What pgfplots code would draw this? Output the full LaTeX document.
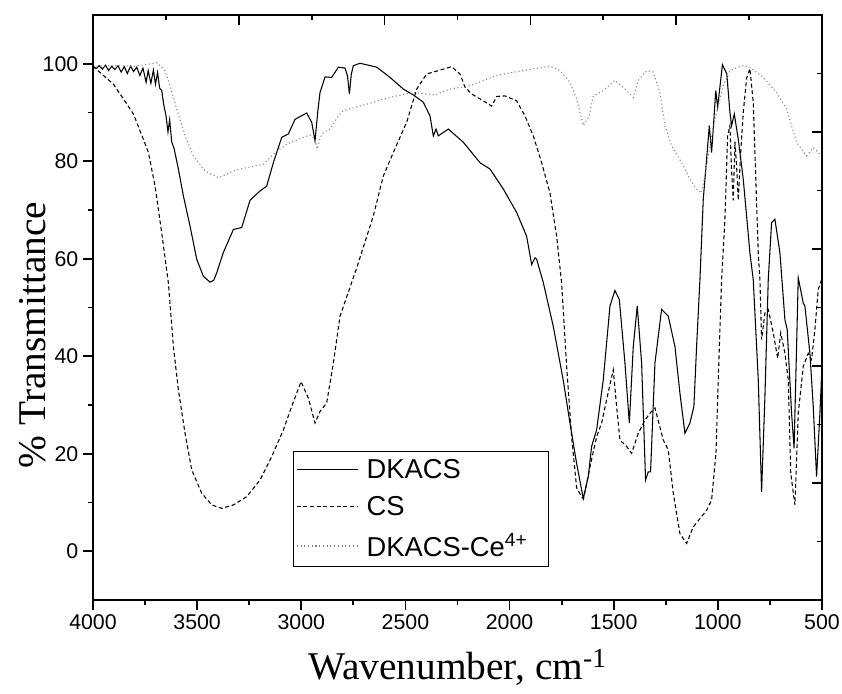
\documentclass[border=0pt]{standalone}
\usepackage{fontspec}
\setmainfont{Liberation Serif}
\setsansfont{Liberation Sans}
\usepackage{pgfplots}
\pgfplotsset{compat=1.18}
\begin{document}
\begin{tikzpicture}
\useasboundingbox (-69.75pt,-69.75pt) rectangle (561.75pt,450pt);
\begin{axis}[
  scale only axis, width=546.75pt, height=438.75pt,
  x dir=reverse, xmin=500, xmax=4000, ymin=-10, ymax=110,
  xtick={500,1000,...,4000}, minor xtick={750,1250,...,3750},
  ytick={0,20,...,100}, minor ytick={10,30,50,70,90},
  xtick pos=bottom, ytick pos=left, tick align=outside,
  major tick length=7.5pt, minor tick length=4pt,
  axis line style={line width=1.5pt},
  every tick/.style={line width=1.3pt, black},
  /pgf/number format/assume math mode=true,
  /pgf/number format/1000 sep={},
  tick label style={font=\sffamily\fontsize{16}{18}\selectfont},
  xlabel={Wavenumber, cm\textsuperscript{-1}},
  ylabel={\% Transmittance},
  xlabel style={at={(axis description cs:0.5,-0.116)}, anchor=center, font=\fontsize{29.5}{31}\selectfont},
  ylabel style={at={(axis description cs:-0.0823,0.453)}, anchor=center, rotate=0, font=\fontsize{29.5}{31}\selectfont},
  legend cell align=left,
  legend style={at={(axis description cs:0.2743,0.0564)}, anchor=south west,
    draw=black, line width=1pt, font=\sffamily\fontsize{20.5}{22}\selectfont,
    inner xsep=2pt, inner ysep=3.8pt, row sep=8pt, column sep=4pt},
  legend image code/.code={\draw[#1] (0pt,0pt) -- (46pt,0pt);},
]
\addplot[black, line width=0.8pt] coordinates {
(4000,99.5)(3985,99.0)(3970,99.6)(3955,98.9)(3940,99.7)(3925,98.6)(3910,99.5)(3895,98.8)(3880,99.6)(3865,98.3)
(3850,99.4)(3835,98.0)(3820,99.5)(3805,98.4)(3790,99.3)(3775,97.6)(3760,99.1)(3745,96.2)(3735,98.6)(3722,96.0)
(3710,98.7)(3700,95.8)(3690,98.2)(3680,95.0)(3670,94.5)(3660,91.5)(3650,89.5)(3640,86.0)(3632,88.5)(3622,84.0)
(3610,82.5)(3590,78.4)(3566,72.9)(3534,66.7)(3502,59.9)(3470,56.4)(3438,55.2)(3420,55.6)(3406,57.1)(3374,61.3)
(3326,66.0)(3286,66.4)(3246,72.0)(3198,73.9)(3166,74.9)(3134,79.7)(3094,84.9)(3062,85.6)(3030,88.6)(2974,89.9)
(2950,88.0)(2934,84.2)(2920,90.5)(2910,94.1)(2886,97.3)(2854,97.2)(2822,99.3)(2790,99.1)(2778,97.5)(2769,93.8)
(2760,97.8)(2750,99.6)(2718,100.1)(2638,99.3)(2574,97.2)(2510,94.8)(2462,93.6)(2414,92.1)(2382,89.3)(2366,85.2)
(2353,86.6)(2342,85.2)(2294,86.6)(2222,83.9)(2142,79.7)(2094,78.4)(2030,74.3)(1966,69.5)(1918,64.6)(1894,58.8)
(1878,60.2)(1870,59.9)(1838,55.1)(1790,46.1)(1742,35.0)(1710,26.3)(1678,18.0)(1646,10.8)(1622,15.3)(1606,21.5)
(1582,24.9)(1550,35.2)(1518,50.3)(1494,53.5)(1473,51.6)(1446,38.6)(1425,26.3)(1406,42.0)(1387,50.3)(1366,38.6)
(1347,14.6)(1334,16.3)(1323,16.3)(1302,38.6)(1270,49.6)(1238,48.2)(1206,42.0)(1182,32.4)(1158,24.2)(1134,26.3)
(1115,29.7)(1102,42.0)(1086,55.7)(1070,72.2)(1054,80.4)(1041,87.3)(1030,81.8)(1019,88.6)(1010,94.5)(1001,91.1)
(978,99.8)(957,97.9)(942,90.0)(934,87.3)(921,89.7)(902,84.5)(878,76.3)(846,61.2)(830,55.7)(806,35.2)
(790,12.2)(774,31.7)(758,55.7)(742,67.4)(726,68.1)(702,61.2)(678,47.5)(667,45.5)(646,28.3)(634,21.1)
(622,42.0)(614,56.1)(590,50.9)(582,50.3)(558,40.6)(542,29.7)(526,15.3)(510,28.3)(500,38)
};
\addlegendentry{DKACS}
\addplot[black, line width=0.8pt, dash pattern=on 3pt off 2pt] coordinates {
(4000,99.5)(3966,98.2)(3902,95.8)(3854,92.8)(3806,89.7)(3758,84.5)(3734,81.8)(3702,74.9)(3670,65.3)(3638,55.0)
(3614,42.0)(3590,33.1)(3558,24.2)(3526,16.7)(3478,11.9)(3430,9.5)(3382,8.8)(3326,9.5)(3262,11.2)(3198,14.6)
(3142,19.4)(3086,24.9)(3046,29.7)(3001,34.8)(2966,31.4)(2934,26.3)(2910,28.7)(2878,30.4)(2846,38.6)(2814,48.2)
(2734,58.1)(2654,68.8)(2606,77.0)(2558,81.8)(2494,88.0)(2446,94.8)(2398,97.9)(2326,98.8)(2278,99.4)(2238,97.9)
(2214,95.2)(2182,93.8)(2126,92.4)(2086,91.3)(2062,93.3)(2022,93.4)(1966,92.4)(1926,89.3)(1886,85.2)(1846,79.7)
(1806,73.5)(1774,64.6)(1750,55.0)(1726,37.9)(1702,23.5)(1678,13.0)(1654,11.2)(1645,10.8)(1614,17.3)(1582,23.5)
(1558,26.3)(1534,31.1)(1502,37.2)(1486,29.7)(1470,22.8)(1438,21.5)(1414,20.1)(1382,24.2)(1350,26.9)(1326,28.3)
(1302,29.4)(1262,22.8)(1238,20.8)(1214,11.9)(1182,3.6)(1150,1.6)(1118,5.0)(1086,6.7)(1054,8.4)(1030,10.5)
(1009,20.1)(998,35.2)(982,55.7)(966,68.1)(953,85.2)(942,87.3)(934,78)(926,72)(918,84)(910,79)
(902,72)(890,82)(878,90)(862,97)(846,99.0)(830,92)(822,81.8)(806,61.2)(798,55.7)(790,43.4)
(774,48.9)(758,49.6)(734,44.8)(713,39.6)(698,44.8)(678,40.6)(662,35.2)(650,16.0)(630,9.5)(614,28.3)
(590,37.9)(566,40.6)(550,39.3)(534,45.5)(518,53.7)(500,56)
};
\addlegendentry{CS}
\addplot[gray, line width=0.8pt, dash pattern=on 0.8pt off 2pt] coordinates {
(4000,99.5)(3900,99.6)(3800,99.5)(3720,100.0)(3693,100.2)(3654,98.6)(3630,95.5)(3598,90.7)(3558,85.2)(3518,81.1)
(3462,78.0)(3398,76.6)(3326,78.0)(3262,78.7)(3182,79.4)(3126,81.8)(3070,83.5)(3014,84.5)(2958,85.4)(2935,84.5)
(2923,82.5)(2910,84.8)(2894,85.9)(2862,86.6)(2822,89.3)(2798,90.4)(2686,91.7)(2574,93.1)(2462,94.1)(2358,93.6)
(2286,94.8)(2190,95.5)(2062,97.6)(1934,98.6)(1806,99.5)(1758,98.6)(1710,96.2)(1678,92.8)(1646,87.3)(1617,89.3)
(1598,93.4)(1550,94.5)(1494,96.6)(1446,94.8)(1406,93.1)(1382,96.6)(1342,98.6)(1310,98.3)(1278,94.1)(1254,87.3)
(1222,83.2)(1174,79.7)(1134,76.3)(1102,74.3)(1078,73.5)(1054,79.0)(1030,85.2)(1006,90.0)(974,95.5)(942,98.6)
(886,99.6)(846,99.3)(782,97.2)(718,94.1)(670,90.7)(622,83.9)(574,81.1)(542,82.8)(518,81.8)(500,81.0)
};
\addlegendentry{DKACS-Ce\textsuperscript{4+}\rule{12pt}{0pt}}
\end{axis}
\begin{axis}[
  scale only axis, width=546.75pt, height=438.75pt,
  xmin=0, xmax=10, ymin=0, ymax=10,
  xtick={2,4,6,8}, minor xtick={1,3,5,7,9},
  ytick={2,4,6,8}, minor ytick={1,3,5,7,9},
  xtick pos=top, ytick pos=right, tick align=inside,
  xticklabels={}, yticklabels={},
  major tick length=7.5pt, minor tick length=4pt,
  axis line style={line width=1.5pt},
  every tick/.style={line width=1.3pt, black},
]
\end{axis}
\end{tikzpicture}
\end{document}
